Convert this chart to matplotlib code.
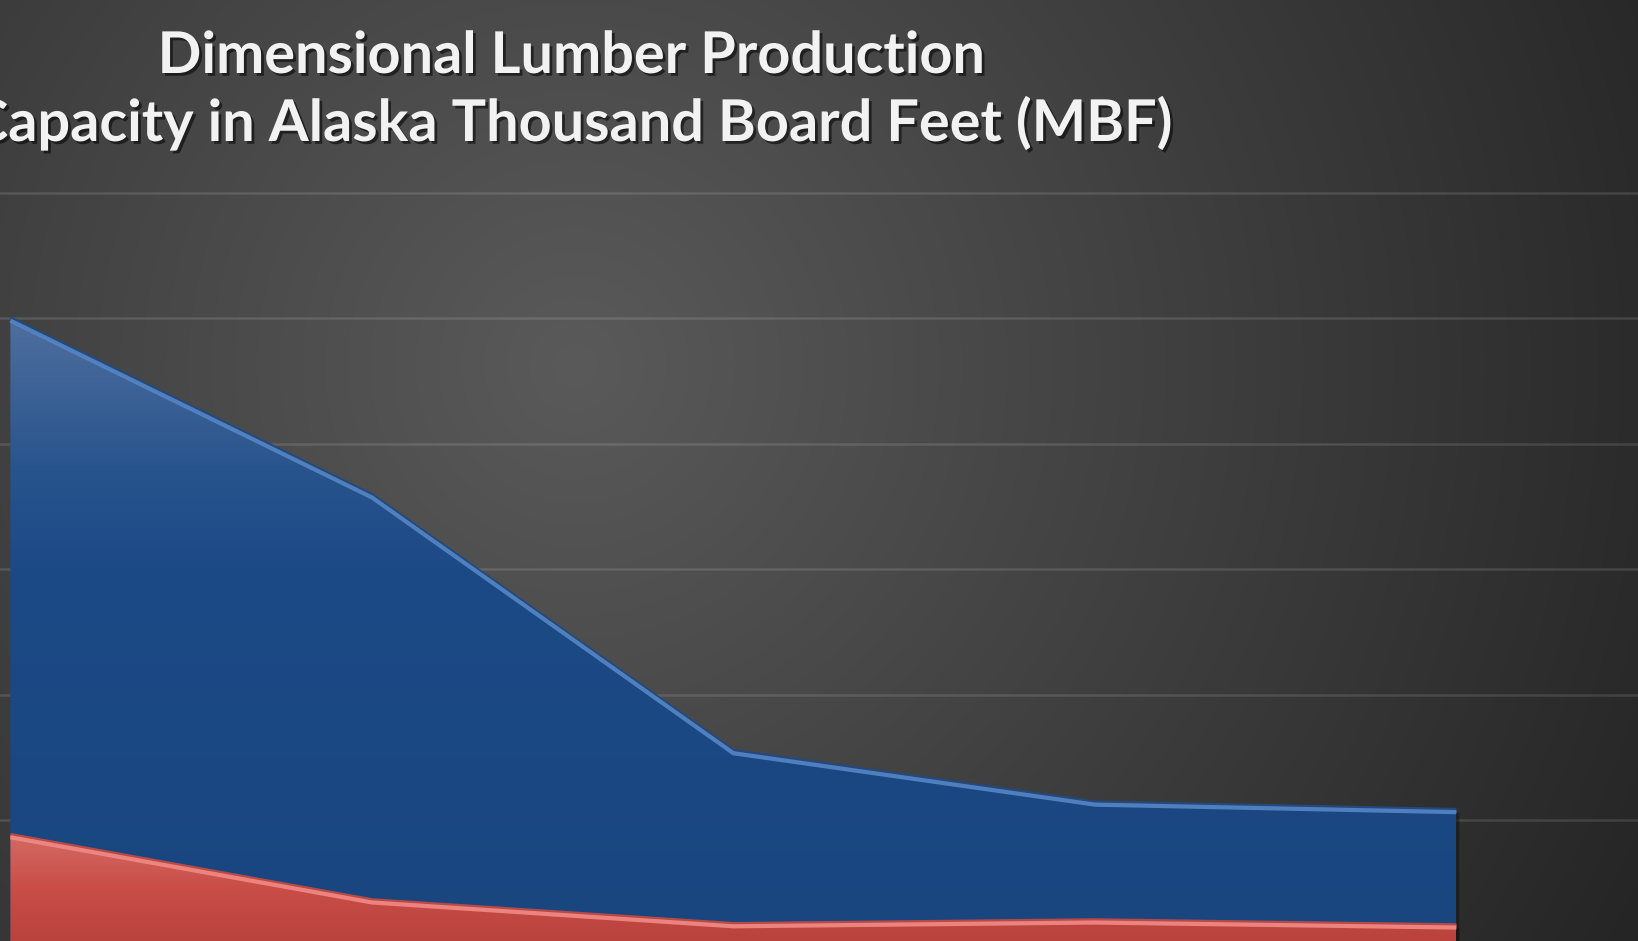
import numpy as np
import matplotlib
matplotlib.use('Agg')
import matplotlib.pyplot as plt
import matplotlib.patheffects as pe
from matplotlib.colors import LinearSegmentedColormap
from matplotlib.patches import PathPatch

# ---------------- data ----------------
categories = ['P1', 'P2', 'P3', 'P4', 'P5']
capacity = [50000, 35900, 15500, 11400, 10800]
production = [8800, 3600, 1700, 2000, 1600]
yticks = [0, 10000, 20000, 30000, 40000, 50000, 60000]
title_lines = ['Dimensional Lumber Production',
               'Capacity in Alaska Thousand Board Feet (MBF)']

W, H = 1638, 941
DPI = 100
fig = plt.figure(figsize=(W / DPI, H / DPI), dpi=DPI)

# ---------------- background radial gradient ----------------
bg = fig.add_axes([0, 0, 1, 1], zorder=-10)
yy, xx = np.mgrid[0:H, 0:W]
d = np.hypot(xx - 575, yy - 365)
lum = np.clip(90 - 0.044 * d, 30, 95) / 255.0
img = np.dstack([lum, lum, lum])
bg.imshow(img, extent=[0, W, H, 0], aspect='auto', interpolation='bilinear')
bg.set_xlim(0, W); bg.set_ylim(H, 0)
bg.axis('off')

# ---------------- main axes ----------------
px_per_cat = 361.5
x0_px = 10.4
base_px = 945.4
px_per_unit = 125.4 / 10000
top_px = 188
ax = fig.add_axes([0, 0, 1, (H - top_px) / H])
ax.set_facecolor('none')
x = np.arange(len(categories))
xlim = (-x0_px / px_per_cat, (W - x0_px) / px_per_cat)
ylim = ((base_px - H) / px_per_unit, (base_px - top_px) / px_per_unit)

ax.set_yticks(yticks)
ax.yaxis.grid(True, color='white', alpha=0.12, lw=1.8, zorder=0)
ax.set_axisbelow(True)
ax.tick_params(left=False, bottom=False, labelleft=False, labelbottom=False)
for s in ax.spines.values():
    s.set_visible(False)


def gradient_area(xv, yv, stops, z, edge_dark, edge_light):
    poly = ax.fill_between(xv, 0, yv, facecolor='none', edgecolor='none', zorder=z)
    path = poly.get_paths()[0]
    shadow = PathPatch(path, facecolor='#151515', edgecolor='none', alpha=0.55,
                       zorder=z - 0.5)
    ax.add_patch(shadow)
    shadow.set_transform(ax.transData + matplotlib.transforms.ScaledTranslation(
        3 / DPI, -3 / DPI, fig.dpi_scale_trans))
    cmap = LinearSegmentedColormap.from_list('g', stops)
    grad = np.linspace(0, 1, 256).reshape(-1, 1)
    im = ax.imshow(grad, cmap=cmap, aspect='auto', origin='lower',
                   extent=[xv[0], xv[-1], 0, max(yv)], zorder=z,
                   interpolation='bilinear')
    im.set_clip_path(path, transform=ax.transData)
    ax.plot(xv, yv, color=edge_dark, lw=3.0, zorder=z + 0.1,
            solid_joinstyle='miter', solid_capstyle='butt')
    ax.plot(xv, yv, color=edge_light, lw=3.0, zorder=z + 0.2, alpha=0.9,
            solid_joinstyle='miter', solid_capstyle='butt',
            transform=ax.transData + matplotlib.transforms.ScaledTranslation(
                0, -2.2 / DPI, fig.dpi_scale_trans))


gradient_area(x, capacity,
              [(0.0, '#19467f'), (0.6, '#1c4a86'), (0.76, '#28548d'), (1.0, '#4f6e9f')],
              3, '#24497c', '#5686c6')
gradient_area(x, production,
              [(0.0, '#b8423d'), (0.5, '#c94c47'), (1.0, '#d36a62')],
              5, '#b84a46', '#f28a86')

ax.set_xlim(*xlim)
ax.set_ylim(*ylim)

# ---------------- title ----------------
fig.canvas.draw()
renderer = fig.canvas.get_renderer()
cx = 571.5 / W
txt_kw = dict(ha='center', va='baseline', color='#f2f2f2', weight='bold',
              family=['Lato', 'DejaVu Sans'],
              path_effects=[pe.withSimplePatchShadow(offset=(2, -2),
                                                     shadow_rgbFace='black', alpha=0.55)])
t1 = fig.text(cx, 1 - 73 / H, title_lines[0], fontsize=30, **txt_kw)
bb = t1.get_window_extent(renderer)
fs = 30 * 827 / bb.width
t1.set_fontsize(fs)
t2 = fig.text(cx, 1 - 141 / H, title_lines[1], fontsize=fs, **txt_kw)

fig.savefig('out.png', dpi=DPI)
